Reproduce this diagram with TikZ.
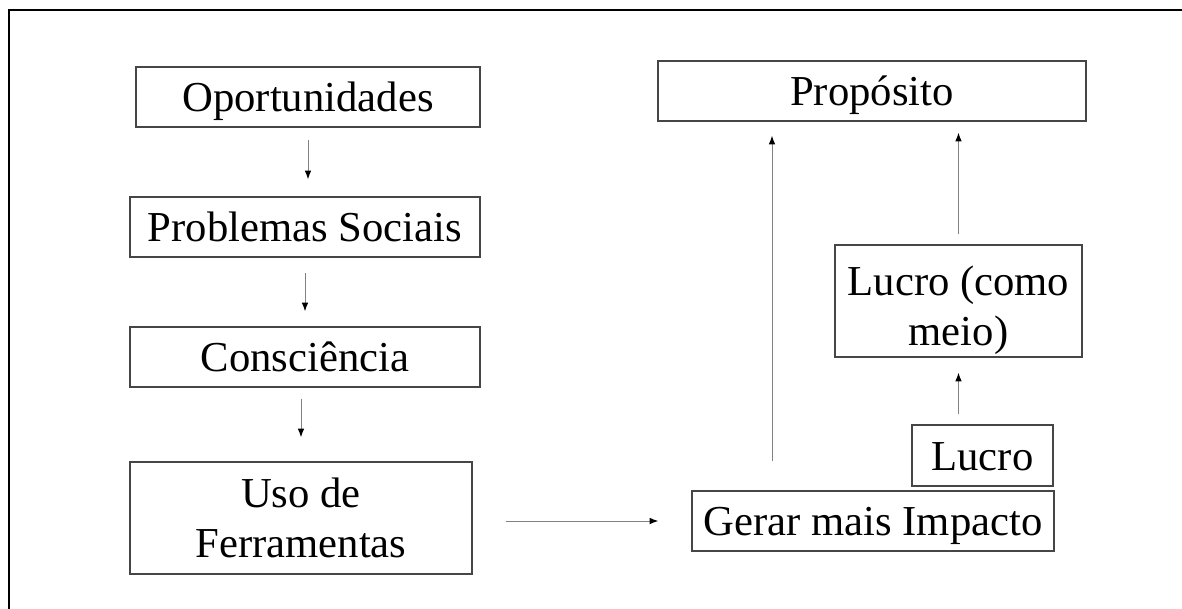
\documentclass[tikz,border=0pt]{standalone}
\usepackage{fontspec}
\setmainfont{Liberation Serif}
\usetikzlibrary{arrows.meta}

\tikzset{every picture/.style={line width=0.75pt}}
\tikzset{
  caixa/.style={draw={rgb, 255:red, 70; green, 70; blue, 70}, line width=1.1pt, inner sep=0pt,
    font=\fontsize{32}{37}\selectfont, text height=27pt, text depth=4.5pt},
  duas/.style={draw={rgb, 255:red, 70; green, 70; blue, 70}, line width=1.1pt, inner sep=0pt, align=center,
    font=\fontsize{32}{37}\selectfont},
  seta/.style={draw={rgb, 255:red, 130; green, 130; blue, 130}, line width=0.75pt,
    -{Latex[length=6.5pt,width=5pt,fill=black,color=black]}}
}

\begin{document}
\begin{tikzpicture}[x=0.75pt,y=0.75pt,yscale=-1,xscale=1]
	\useasboundingbox (0,0) rectangle (1182,609);

	%Frame
	\draw [line width=1.1pt]  (9,609) -- (9,10) -- (1182,10) ;

	% Text Node
	\node [caixa, minimum width=258pt, minimum height=45pt] (opo) at (308,97) {Oportunidades};
	% Text Node
	\node [caixa, minimum width=262.5pt, minimum height=45pt] (prob) at (305,227) {Problemas Sociais};
	% Text Node
	\node [caixa, minimum width=262.5pt, minimum height=45pt] (cons) at (305,357) {Consciência};
	% Text Node
	\node [duas, minimum width=256.5pt, minimum height=84pt] (uso) at (301,518) {Uso de\\Ferramentas};
	% Text Node
	\node [caixa, minimum width=321pt, minimum height=45pt] (prop) at (872,91) {Propósito};
	% Text Node
	\node [duas, minimum width=185.25pt, minimum height=84pt] (lcm) at (958.5,301) {\rule{0pt}{36pt}Lucro (como\\meio)};
	% Text Node
	\node [caixa, minimum width=105.75pt, minimum height=45.75pt] (lucro) at (982.5,455.5) {Lucro};
	% Text Node
	\node [caixa, minimum width=271.5pt, minimum height=45pt] (gerar) at (873,521) {Gerar mais Impacto};

	%Straight Lines
	\draw [seta, shorten <=9pt, shorten >=12.75pt] (opo.south) -- (opo.south |- prob.north) ;
	\draw [seta, shorten <=11.25pt, shorten >=11.25pt] (prob.south) -- (prob.south |- cons.north) ;
	\draw [seta, shorten <=8.25pt, shorten >=18pt] (cons.south -| uso.north) -- (uso.north) ;
	\draw [seta, shorten <=24.75pt, shorten >=24.75pt] (uso.east |- gerar.west) -- (gerar.west) ;
	\draw [seta, shorten <=21.75pt, shorten >=10.5pt] ([xshift=-75.75pt]gerar.north) -- ([xshift=-75.75pt]gerar.north |- prop.south) ;
	\draw [seta, shorten <=7.5pt, shorten >=11.25pt] (lucro.north -| lcm.south) -- (lcm.south) ;
	\draw [seta, shorten <=7.5pt, shorten >=8.25pt] (lcm.north) -- (lcm.north |- prop.south) ;

\end{tikzpicture}
\end{document}
